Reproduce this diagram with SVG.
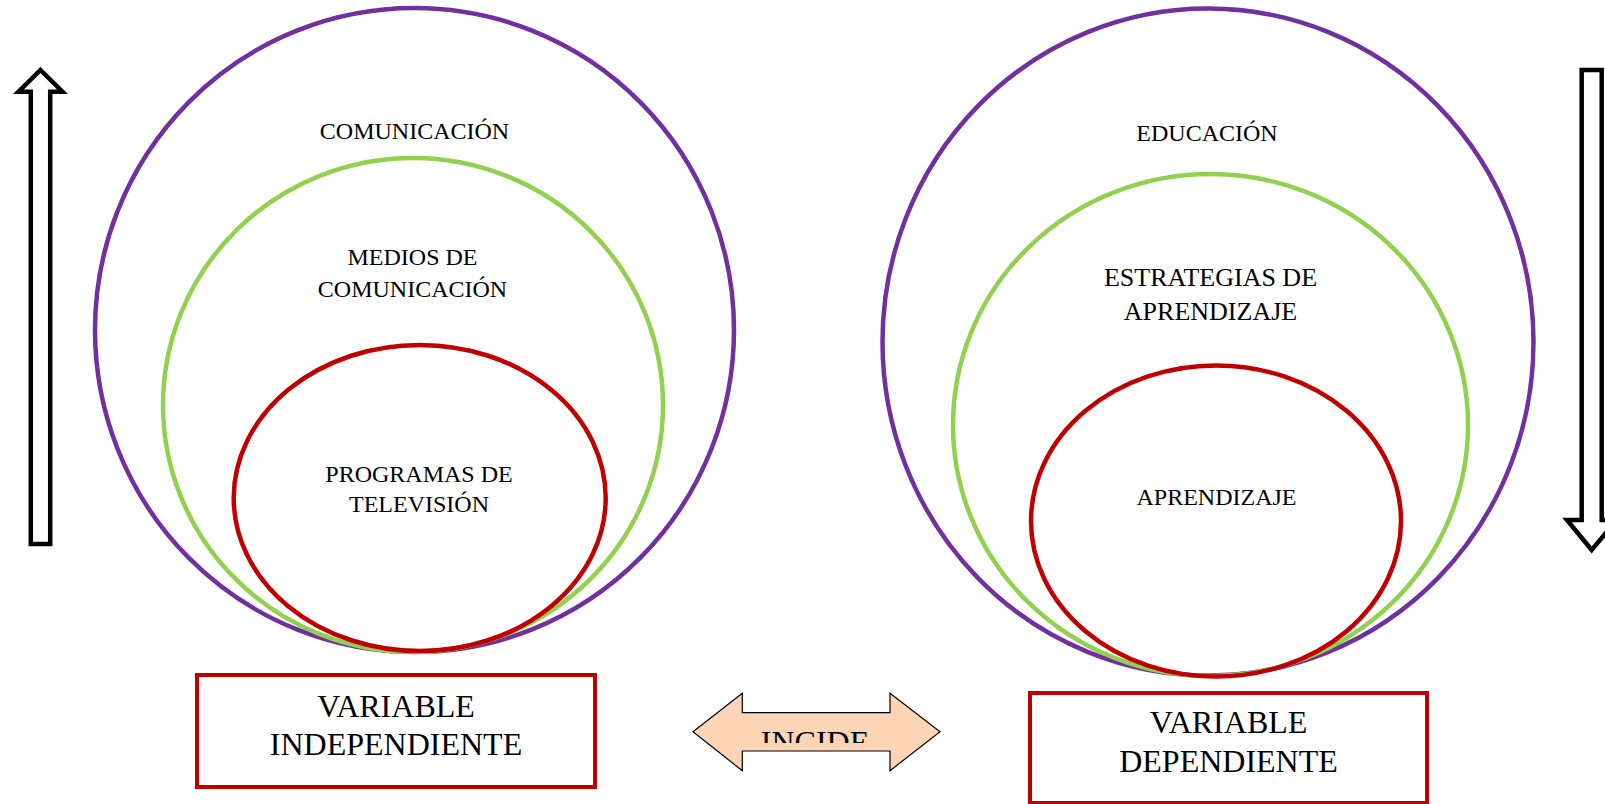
<svg xmlns="http://www.w3.org/2000/svg" width="1605" height="804" viewBox="0 0 1605 804">
<style>
.ring{fill:none;stroke-width:4.5}
.p{stroke:#7030a0}.g{stroke:#92d050}.r{stroke:#c00000}
.lbl{font-family:"Liberation Serif","Times New Roman",serif;font-size:24px;fill:#000;text-anchor:middle}
.big{font-family:"Liberation Serif","Times New Roman",serif;font-size:32px;fill:#000;text-anchor:middle}
.box{fill:#fff;stroke:#c00000;stroke-width:4}
.blk{fill:#fff;stroke:#000;stroke-width:4.5;stroke-linejoin:miter}
</style>
<defs>
<clipPath id="incClip"><rect x="680" y="690" width="270" height="53"/></clipPath>
</defs>
<rect width="1605" height="804" fill="#fff"/>
<g id="comunicacion">
<ellipse class="ring p" cx="414.5" cy="330" rx="319.5" ry="322"/>
<text class="lbl" x="414.5" y="139">COMUNICACIÓN</text>
</g>
<g id="medios">
<ellipse class="ring g" cx="413" cy="405" rx="250" ry="247"/>
<text class="lbl" x="412.5" y="265">MEDIOS DE</text>
<text class="lbl" x="412.5" y="297">COMUNICACIÓN</text>
</g>
<g id="programas">
<ellipse class="ring r" cx="419.7" cy="498" rx="186" ry="153"/>
<text class="lbl" x="419" y="482">PROGRAMAS DE</text>
<text class="lbl" x="419" y="512">TELEVISIÓN</text>
</g>
<g id="educacion">
<ellipse class="ring p" cx="1208" cy="342" rx="325.5" ry="333.5"/>
<text class="lbl" x="1207" y="141">EDUCACIÓN</text>
</g>
<g id="estrategias">
<ellipse class="ring g" cx="1210.5" cy="425" rx="257.5" ry="251"/>
<text class="lbl" x="1210.5" y="286" style="font-size:26px">ESTRATEGIAS DE</text>
<text class="lbl" x="1210.5" y="320" style="font-size:26px">APRENDIZAJE</text>
</g>
<g id="aprendizaje">
<ellipse class="ring r" cx="1216" cy="521" rx="185" ry="155.5"/>
<text class="lbl" x="1216.5" y="505">APRENDIZAJE</text>
</g>
<g id="var-independiente">
<rect class="box" x="197" y="675" width="398" height="112"/>
<text class="big" x="396" y="717">VARIABLE</text>
<text class="big" x="396" y="755">INDEPENDIENTE</text>
</g>
<g id="var-dependiente">
<rect class="box" x="1030" y="693" width="397" height="110"/>
<text class="big" x="1228.5" y="733">VARIABLE</text>
<text class="big" x="1228.5" y="772">DEPENDIENTE</text>
</g>
<g id="connectors">
<g id="incide">
<path d="M693,731.7 L742.3,693.3 L742.3,712.7 L890,712.7 L890,693.3 L940,731.7 L890,770.7 L890,751 L742.3,751 L742.3,770.7 Z" fill="#fbd5b5" stroke="#000" stroke-width="1.2" stroke-linejoin="miter"/>
<text class="big" x="815" y="753" clip-path="url(#incClip)">INCIDE</text>
</g>
<path id="arrow-up" class="blk" d="M40.5,70 L62.5,91.7 L50.2,91.7 L50.2,544 L30.8,544 L30.8,91.7 L18.5,91.7 Z"/>
<path id="arrow-down" class="blk" d="M1581.7,70 L1601.7,70 L1601.7,520 L1616.5,520 L1591.7,550 L1567,520 L1581.7,520 Z"/>
</g>
</svg>
